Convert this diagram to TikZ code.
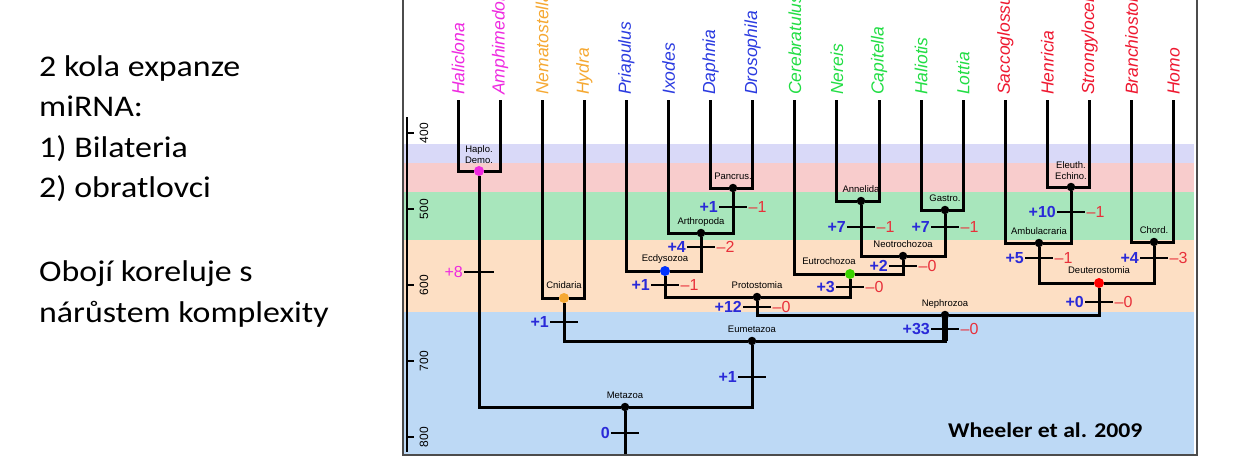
\documentclass[tikz,border=0pt]{standalone}
\usepackage{fontspec}
\setmainfont{Carlito}
\newfontfamily\slidefont[FakeStretch=1.13]{Carlito}
\newfontfamily\helv{Liberation Sans}
\usetikzlibrary{positioning}
\definecolor{bandlav}{HTML}{D9D9F8}
\definecolor{bandpink}{HTML}{F8CCCC}
\definecolor{bandgreen}{HTML}{A8E6BC}
\definecolor{bandpeach}{HTML}{FDDFC4}
\definecolor{bandblue}{HTML}{BDD9F5}
\definecolor{magcol}{HTML}{EE2AE0}
\definecolor{cnidcol}{HTML}{F5A832}
\definecolor{ecdycol}{HTML}{2B3BE0}
\definecolor{lophcol}{HTML}{22DD44}
\definecolor{deutcol}{HTML}{EE1830}
\definecolor{gaincol}{HTML}{2A2AD8}
\definecolor{losscol}{HTML}{E8303A}
\tikzset{
  branch/.style={line width=3pt,black},
  tickline/.style={line width=2pt,black},
  cladedot/.style={circle,fill=#1,inner sep=0pt,minimum size=8.5pt},
  keydot/.style={circle,fill=#1,inner sep=0pt,minimum size=10pt},
  cladename/.style={font=\helv\fontsize{9.5}{11}\selectfont,inner sep=1pt,text height=7pt,text depth=2pt},
  cladepair/.style={font=\helv\fontsize{9.5}{11.5}\selectfont,inner sep=1pt,align=center},
  taxon/.style={font=\helv\itshape\fontsize{17.5}{20}\selectfont,rotate=90,anchor=west,inner sep=1pt},
  gain/.style={font=\helv\bfseries\fontsize{16}{18}\selectfont,text=gaincol,inner sep=1pt,anchor=east},
  loss/.style={font=\helv\fontsize{16}{18}\selectfont,text=losscol,inner sep=1.5pt,anchor=west},
  agelabel/.style={font=\helv\fontsize{12}{14}\selectfont,rotate=90,inner sep=0pt}
}
\begin{document}
\begin{tikzpicture}[x=1pt,y=-1pt]
\clip (0,0) rectangle (1234,463);
% time bands
\fill[bandlav] (403,144) rectangle (1194,163);
\fill[bandpink] (403,163) rectangle (1194,192);
\fill[bandgreen] (403,192) rectangle (1194,240);
\fill[bandpeach] (403,240) rectangle (1194,312);
\fill[bandblue] (403,312) rectangle (1194,454);
\draw[gray!60!black,line width=1.2pt] (403,-5) rectangle (1197,455); % frame
% age axis
\draw[line width=2.5pt] (407,117) -- (407,452);
\foreach \v [count=\k from 0] in {400,500,600,700,800}{
  \draw[line width=2.5pt] (407,{133+76*\k}) -- (414,{133+76*\k});
  \node[agelabel] (age\v) at (424,{133+76*\k}) {\v};
}
% taxa
\foreach \tx/\cl [count=\i from 0] in {Haliclona/magcol,Amphimedon/magcol,Nematostella/cnidcol,Hydra/cnidcol,Priapulus/ecdycol,Ixodes/ecdycol,Daphnia/ecdycol,Drosophila/ecdycol,Cerebratulus/lophcol,Nereis/lophcol,Capitella/lophcol,Haliotis/lophcol,Lottia/lophcol,Saccoglossus/deutcol,Henricia/deutcol,Strongylocentrotus/deutcol,Branchiostoma/deutcol,Homo/deutcol}{
  \coordinate (\tx) at ({458+42.1*\i},100);
  \node[taxon,text=\cl] (n\tx) at ({458+42.1*\i},96) {\tx};
}
% clades
\node[keydot=magcol] (haplo) at (479,171) {};
\node[keydot=cnidcol] (cnid) at (564,298) {};
\node[cladedot=black] (pancr) at (733,188) {};
\node[cladedot=black] (arthr) at (701,233) {};
\node[keydot=blue!80!cyan] (ecdy) at (665,271) {};
\node[cladedot=black] (proto) at (757,297) {};
\node[cladedot=black] (annel) at (861,201) {};
\node[cladedot=black] (gastro) at (945,210) {};
\node[cladedot=black] (neotr) at (903,256) {};
\node[keydot=green!75!black!70!lime] (eutro) at (850,274) {};
\node[cladedot=black] (eleuth) at (1071,187) {};
\node[cladedot=black] (ambul) at (1039,243) {};
\node[cladedot=black] (chord) at (1154,242) {};
\node[keydot=red] (deut) at (1099,283) {};
\node[cladedot=black] (nephro) at (945,315) {};
\node[cladedot=black] (eumet) at (752,341) {};
\node[cladedot=black] (metaz) at (625,407) {};
\coordinate (root) at (625,454);
% branches
\foreach \a/\b in {Haliclona/haplo,Amphimedon/haplo,Nematostella/cnid,Hydra/cnid,
  Daphnia/pancr,Drosophila/pancr,Ixodes/arthr,pancr/arthr,Priapulus/ecdy,arthr/ecdy,
  Nereis/annel,Capitella/annel,Haliotis/gastro,Lottia/gastro,annel/neotr,gastro/neotr,
  Cerebratulus/eutro,neotr/eutro,ecdy/proto,eutro/proto,
  Henricia/eleuth,Strongylocentrotus/eleuth,Saccoglossus/ambul,eleuth/ambul,
  Branchiostoma/chord,Homo/chord,ambul/deut,chord/deut,
  proto/nephro,deut/nephro,cnid/eumet,nephro/eumet,haplo/metaz,eumet/metaz}
  \draw[branch] (\a) |- (\b);
\draw[branch] (metaz) -- (root);
\draw[line width=5.5pt] (nephro.center) -- (nephro.center |- eumet); % thick Nephrozoa stem
% clade names
\foreach \nd/\txt in {cnid/Cnidaria,pancr/Pancrus.,arthr/Arthropoda,ecdy/Ecdysozoa,
  proto/Protostomia,annel/Annelida,gastro/Gastro.,neotr/Neotrochozoa,ambul/Ambulacraria,
  chord/Chord.,deut/Deuterostomia,nephro/Nephrozoa,eumet/Eumetazoa,metaz/Metazoa}
  \node[cladename,above=1pt of \nd] (\nd-name) {\txt};
\node[cladename,above=1pt of eutro,xshift=-21pt] (eutro-name) {Eutrochozoa};
\node[cladepair,above=1pt of haplo] (haplo-name) {Haplo.\\Demo.};
\node[cladepair,above=1.5pt of eleuth] (eleuth-name) {Eleuth.\\Echino.};
% miRNA gains and losses
\foreach \nd/\ty/\g/\l in {pancr/207/+1/–1,arthr/247/+4/–2,ecdy/285/+1/–1,proto/307/+12/–0,
  annel/227/+7/–1,gastro/227/+7/–1,neotr/266/+2/–0,eutro/287/+3/–0,eleuth/212/+10/–1,
  ambul/258/+5/–1,chord/258/+4/–3,deut/302/+0/–0,nephro/329/+33/–0}{
  \coordinate (tk\nd) at (\nd |- 0,\ty);
  \draw[tickline] ([xshift=-14pt]tk\nd) -- ([xshift=14pt]tk\nd);
  \node[gain] (g\nd) at ([xshift=-14pt]tk\nd) {\g};
  \node[loss] (l\nd) at ([xshift=14pt]tk\nd) {\l};
}
\foreach \nd/\ty/\g in {cnid/322/+1,eumet/377/+1,metaz/433/0}{
  \coordinate (tk\nd) at (\nd |- 0,\ty);
  \draw[tickline] ([xshift=-14pt]tk\nd) -- ([xshift=14pt]tk\nd);
  \node[gain] (g\nd) at ([xshift=-14pt]tk\nd) {\g};
}
\coordinate (tkhaplo) at (haplo |- 0,272);
\draw[tickline] ([xshift=-15pt]tkhaplo) -- ([xshift=15pt]tkhaplo);
\node[gain,font=\helv\fontsize{16}{18}\selectfont,text=magcol] (ghaplo) at ([xshift=-15pt]tkhaplo) {+8};
% source and notes
\node[font=\slidefont\bfseries\fontsize{21}{24}\selectfont,anchor=base west,inner sep=0pt] (cite) at (948,437) {Wheeler et al. 2009};
\node[font=\slidefont\fontsize{30}{40.6}\selectfont,align=left,anchor=base west,inner sep=0pt] (notes) at (39,322)
  {2 kola expanze\\miRNA:\\1) Bilateria\\2) obratlovci\\[43pt]Obojí koreluje s\\nárůstem komplexity};
\end{tikzpicture}
\end{document}
